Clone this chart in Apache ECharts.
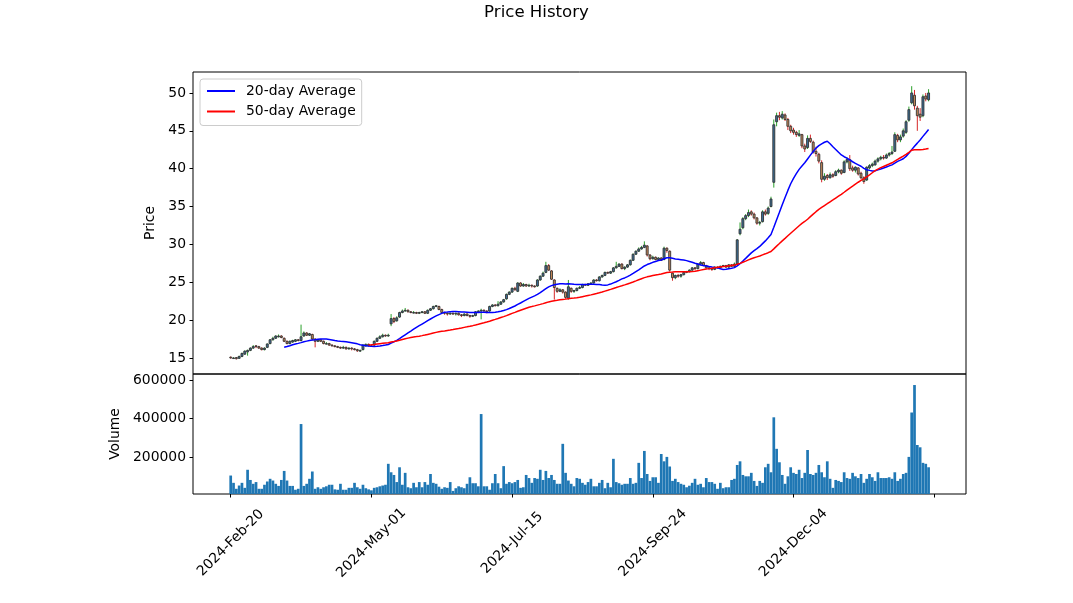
<!DOCTYPE html>
<html><head><meta charset="utf-8">
<script src="https://cdn.jsdelivr.net/npm/echarts@6/dist/echarts.min.js"></script>
<style>html,body{margin:0;padding:0;background:#fff}#c{width:1073px;height:603px}</style>
</head><body><div id="c"></div>
<script>
const tickIndex = [0, 50, 100, 150, 200, 250];
const tickLabels = ['2024-Feb-20', '2024-May-01', '2024-Jul-15', '2024-Sep-24', '2024-Dec-04', ''];
const priceTicks = [15, 20, 25, 30, 35, 40, 45, 50];
const volumeTicks = [200000, 400000, 600000];

const open = [
15.1,15.0,15.05,14.95,15.2,15.5,15.8,16.0,16.3,16.6,
16.5,16.3,16.1,16.4,16.9,17.4,17.6,17.8,17.9,17.6,
17.2,16.9,17.1,17.2,17.4,17.3,17.9,18.3,18.0,18.1,
17.5,17.2,17.4,17.2,16.9,16.9,16.7,16.6,16.5,16.4,
16.3,16.4,16.2,16.3,16.2,16.1,15.9,16.1,16.6,16.8,
16.6,16.7,17.2,17.6,17.8,18.0,17.9,19.5,20.2,19.9,
20.4,21.0,21.2,21.3,21.1,21.0,21.0,20.9,21.0,21.1,
20.9,21.3,21.5,21.8,21.8,21.4,21.0,20.9,20.8,20.9,
20.8,20.9,20.7,20.6,20.8,20.6,20.5,20.6,21.1,21.2,
21.3,21.2,21.2,21.8,22.0,21.9,22.1,22.4,22.8,23.4,
23.7,24.2,23.8,24.9,24.5,24.7,24.5,24.6,24.5,24.5,
25.3,25.8,26.3,27.2,26.5,25.3,24.2,23.8,24.0,23.7,
22.9,24.2,23.8,23.9,24.2,24.3,24.7,24.6,24.8,24.9,
25.3,25.2,25.7,25.9,26.3,26.2,26.4,26.9,27.1,27.4,
26.8,27.0,27.3,27.9,28.7,29.1,29.4,29.6,29.8,28.6,
28.1,28.3,28.0,28.2,28.0,29.5,29.1,26.2,25.6,25.9,
25.8,26.0,26.3,26.4,26.6,26.9,26.8,27.4,27.6,27.2,
26.9,26.8,26.7,27.0,26.9,27.1,27.2,27.0,27.3,27.1,
27.4,31.4,32.2,33.4,33.8,34.3,34.0,33.5,32.8,33.0,
34.3,34.1,35.0,38.2,46.2,47.0,46.7,47.1,46.5,45.6,
45.1,44.8,44.4,44.5,43.0,42.8,44.0,43.5,42.3,41.9,
40.8,38.6,39.1,38.8,39.2,39.1,39.6,39.8,39.5,40.9,
41.2,40.1,39.8,40.1,39.4,38.8,38.5,40.1,40.4,40.5,
41.0,41.3,41.5,41.4,41.8,42.0,42.3,44.4,43.8,44.3,
44.8,46.4,48.7,49.7,48.0,47.2,47.0,49.6,49.1];

const high = [
15.2,15.1,15.1,15.3,15.7,16.0,16.1,16.4,16.7,16.7,
16.6,16.4,16.4,16.9,17.5,17.8,18.0,18.1,18.0,17.7,
17.3,17.3,17.4,17.5,17.5,19.4,18.5,18.4,18.3,18.2,
17.6,17.5,17.5,17.3,17.1,17.0,16.8,16.7,16.6,16.5,
16.6,16.5,16.4,16.4,16.3,16.2,16.1,16.8,16.9,16.9,
16.8,17.3,17.7,18.0,18.2,18.1,18.2,20.8,20.4,20.5,
21.1,21.4,21.6,21.4,21.2,21.2,21.1,21.1,21.2,21.2,
21.4,21.6,21.9,22.0,21.9,21.5,21.1,21.0,21.0,21.0,
21.0,21.0,20.8,20.9,20.9,20.7,20.7,21.2,21.3,21.5,
21.4,21.3,21.9,22.1,22.1,22.5,22.5,22.8,23.5,23.8,
24.3,24.4,25.0,25.0,24.9,24.8,24.8,24.7,24.6,25.4,
25.9,26.4,27.7,27.4,26.6,25.4,24.3,24.2,24.1,23.8,
25.3,24.3,24.0,24.3,24.5,24.8,24.8,24.9,25.0,25.4,
25.4,25.8,26.0,26.4,26.4,26.5,27.0,27.7,27.5,27.5,
27.1,27.4,28.0,28.8,29.2,29.6,29.8,30.4,29.9,28.7,
28.5,28.4,28.3,28.3,29.7,29.6,29.2,26.3,26.0,26.1,
26.1,26.4,26.5,26.7,27.0,27.0,27.5,27.8,27.7,27.3,
27.0,26.9,27.1,27.1,27.2,27.3,27.3,27.4,27.4,27.6,
30.7,32.9,33.6,34.0,34.6,34.5,34.2,33.6,33.1,34.5,
34.6,35.0,36.3,46.5,47.4,47.5,47.6,47.3,46.7,45.8,
45.4,45.0,45.1,44.6,43.3,44.4,44.5,43.7,42.9,42.1,
41.1,39.4,39.3,39.5,39.4,39.8,40.0,39.9,41.1,41.5,
41.8,40.4,40.3,40.2,39.6,39.0,40.3,40.6,40.8,41.2,
41.5,41.7,41.8,42.0,42.2,43.0,44.8,44.6,44.5,45.3,
46.4,48.2,50.9,50.4,48.3,48.0,49.8,50.0,50.5];

const low = [
14.9,14.9,14.8,14.9,15.1,15.4,15.3,15.9,16.2,16.3,
16.2,16.0,16.0,16.3,16.8,17.3,17.5,17.7,17.6,17.1,
16.8,16.8,17.0,17.1,17.2,17.2,17.8,17.9,17.9,17.3,
16.4,17.1,17.1,16.8,16.8,16.6,16.5,16.4,16.3,16.2,
16.2,16.1,16.1,16.0,16.0,15.8,15.8,16.0,16.5,16.5,
16.5,16.6,17.1,17.5,17.7,17.8,17.8,19.2,19.6,19.8,
20.3,20.9,21.1,21.0,20.9,20.9,20.8,20.8,20.9,20.8,
20.8,21.2,21.4,21.7,21.3,20.9,20.7,20.6,20.7,20.7,
20.6,20.6,20.4,20.5,20.5,20.3,20.4,20.5,21.0,20.1,
21.1,20.9,21.1,21.7,21.8,21.8,22.0,22.3,22.7,23.3,
23.6,23.9,23.7,24.4,24.4,24.4,24.4,24.3,24.3,24.4,
25.2,25.7,26.2,26.5,25.3,22.7,23.6,23.7,23.5,22.8,
22.7,23.6,23.6,23.8,24.1,24.2,24.5,24.5,24.7,24.8,
25.1,25.1,25.6,25.8,26.1,26.1,26.3,26.8,27.0,26.7,
26.6,26.9,27.2,27.8,28.6,29.0,29.3,29.5,28.4,27.9,
28.0,27.9,27.9,27.8,27.9,28.9,26.4,25.2,25.4,25.6,
25.6,25.9,26.2,26.3,26.5,26.6,26.7,27.3,27.1,26.8,
26.6,26.5,26.6,26.8,26.8,27.0,26.9,26.9,27.0,27.0,
27.3,31.2,32.0,33.2,33.6,33.8,33.3,32.6,32.5,32.9,
33.8,33.9,34.9,37.5,45.6,46.4,46.5,46.3,45.1,44.7,
44.5,44.2,44.2,42.7,42.2,42.6,43.4,42.0,41.6,40.7,
38.2,38.4,38.5,38.7,38.8,39.0,39.4,39.2,39.4,40.7,
39.7,39.6,39.5,39.1,38.6,38.0,38.4,39.9,40.2,40.4,
40.8,41.1,41.2,41.3,41.6,41.8,42.2,43.5,43.5,44.1,
44.6,46.2,48.5,47.8,45.0,46.3,46.8,48.9,48.9];

const close = [
15.0,15.0,14.9,15.2,15.6,15.9,16.0,16.3,16.5,16.5,
16.3,16.1,16.3,16.85,17.4,17.6,17.9,17.9,17.7,17.2,
16.9,17.2,17.3,17.4,17.3,17.8,18.3,18.0,18.2,17.5,
17.2,17.4,17.2,16.9,16.9,16.7,16.6,16.5,16.4,16.3,
16.4,16.2,16.3,16.2,16.1,15.95,16.0,16.7,16.8,16.6,
16.6,17.2,17.6,17.8,18.0,17.9,18.0,20.2,19.8,20.3,
21.0,21.2,21.3,21.1,21.0,21.0,20.9,21.0,21.1,20.9,
21.3,21.5,21.8,21.9,21.4,21.0,20.9,20.8,20.9,20.8,
20.9,20.7,20.6,20.8,20.6,20.5,20.6,21.1,21.2,21.3,
21.2,21.1,21.8,22.0,21.9,22.1,22.4,22.7,23.4,23.7,
24.2,24.0,24.9,24.5,24.7,24.5,24.6,24.5,24.4,25.3,
25.8,26.2,27.2,26.6,25.4,24.3,23.8,24.0,23.7,23.0,
24.4,23.8,23.9,24.2,24.3,24.7,24.6,24.8,24.9,25.3,
25.2,25.7,25.9,26.3,26.2,26.4,26.9,27.1,27.4,26.8,
27.0,27.3,27.9,28.7,29.1,29.4,29.6,29.9,28.6,28.1,
28.3,28.0,28.2,27.9,29.5,29.2,26.6,25.6,25.9,25.8,
26.0,26.3,26.4,26.6,26.9,26.8,27.4,27.6,27.2,26.9,
26.8,26.7,27.0,26.9,27.1,27.2,27.0,27.3,27.1,27.4,
30.6,32.0,33.4,33.8,34.2,34.0,33.5,32.8,32.9,34.3,
34.0,34.8,36.0,45.8,47.0,46.8,47.2,46.5,45.6,45.0,
44.8,44.5,44.6,43.0,42.6,44.0,43.6,42.2,42.0,41.0,
38.6,39.0,38.8,39.2,39.0,39.6,39.8,39.4,40.9,41.2,
40.0,39.8,40.2,39.3,38.8,38.3,40.2,40.4,40.6,41.0,
41.3,41.5,41.4,41.8,42.0,42.2,44.5,43.8,44.2,45.0,
46.2,47.8,50.0,48.3,47.0,46.8,49.5,49.2,50.0];

const volume = [
103000,65000,34000,51000,65000,39000,133000,80000,60000,69000,
34000,34000,55000,72000,86000,77000,60000,49000,80000,127000,
77000,49000,49000,29000,34000,371000,49000,60000,86000,124000,
34000,42000,34000,42000,47000,55000,55000,31000,29000,60000,
29000,29000,39000,39000,65000,42000,34000,55000,37000,31000,
26000,39000,42000,47000,51000,55000,164000,120000,106000,69000,
146000,55000,117000,42000,37000,65000,42000,69000,42000,69000,
55000,111000,65000,60000,45000,34000,42000,39000,69000,23000,
37000,47000,42000,37000,60000,94000,63000,63000,47000,423000,
47000,47000,29000,63000,111000,63000,37000,152000,60000,69000,
63000,69000,80000,39000,42000,106000,90000,65000,90000,86000,
133000,80000,127000,90000,106000,80000,60000,60000,268000,117000,
77000,60000,47000,90000,86000,65000,55000,69000,86000,47000,
47000,65000,80000,37000,65000,42000,190000,69000,63000,55000,
60000,60000,90000,60000,65000,169000,90000,231000,111000,75000,
94000,94000,65000,215000,177000,200000,150000,75000,86000,69000,
60000,55000,42000,50000,65000,86000,55000,60000,42000,90000,
69000,69000,60000,34000,65000,37000,42000,42000,80000,86000,
158000,177000,106000,99000,99000,117000,75000,49000,75000,65000,
146000,164000,120000,406000,242000,172000,106000,60000,99000,146000,
117000,111000,133000,90000,117000,236000,111000,106000,117000,158000,
120000,94000,177000,86000,39000,80000,75000,69000,120000,90000,
86000,117000,99000,90000,111000,65000,86000,111000,94000,75000,
120000,90000,90000,90000,94000,86000,120000,75000,86000,111000,
117000,200000,431000,574000,262000,250000,169000,164000,146000];

// ---- derived ----
function sma(arr, n) {
  const out = [];
  for (let i = n - 1; i < arr.length; i++) {
    let s = 0;
    for (let k = i - n + 1; k <= i; k++) s += arr[k];
    out.push([i, s / n]);
  }
  return out;
}
const candleData = close.map((c, i) => [i, open[i], c, low[i], high[i]]);
const volData = volume.map((v, i) => [i, v]);
const vMin = 0.3 * Math.min(...volume);
const vMax = 1.1 * Math.max(...volume);
const XMIN = -13.4, XMAX = 261.3;
const FONT = 'DejaVu Sans';

function renderCandle(params, api) {
  const i = api.value(0), o = api.value(1), c = api.value(2), l = api.value(3), h = api.value(4);
  const pO = api.coord([i, o]), pC = api.coord([i, c]);
  const pL = api.coord([i, l]), pH = api.coord([i, h]);
  const w = api.size([1, 0])[0] * 0.7;
  const up = c >= o;
  const top = Math.min(pO[1], pC[1]), bot = Math.max(pO[1], pC[1]);
  return {
    type: 'group',
    children: [
      { type: 'line', shape: { x1: pH[0], y1: pH[1], x2: pL[0], y2: pL[1] },
        style: { stroke: up ? '#2ca02c' : '#d62728', lineWidth: 1 } },
      { type: 'rect', shape: { x: pO[0] - w / 2, y: top, width: w, height: Math.max(bot - top, 0.6) },
        style: { fill: up ? '#3b6e98' : '#c98a5a', stroke: '#333333', lineWidth: 0.9 } }
    ]
  };
}

const axisTxt = { fontFamily: FONT, fontSize: 13.9, color: '#000' };
const chart = echarts.init(document.getElementById('c'), null, { renderer: 'canvas', width: 1073, height: 603 });
chart.setOption({
  animation: false,
  backgroundColor: '#fff',
  textStyle: { fontFamily: FONT },
  title: { text: 'Price History', left: 'center', top: -1,
    textStyle: { fontFamily: FONT, fontSize: 16.6, fontWeight: 'normal', color: '#000' } },
  legend: {
    data: ['20-day Average', '50-day Average'],
    orient: 'vertical', left: 200, top: 79,
    padding: [5, 6, 7, 6], itemWidth: 28, itemHeight: 14, itemGap: 6.5,
    itemStyle: { opacity: 0, borderWidth: 0 },
    backgroundColor: 'rgba(255,255,255,0.8)', borderColor: '#cccccc', borderWidth: 1, borderRadius: 3,
    textStyle: { fontFamily: FONT, fontSize: 13.9, color: '#000', padding: [0, 0, 0, 6] }
  },
  grid: [
    { left: 193, top: 72, width: 773, height: 302, show: true, borderColor: '#000', borderWidth: 1, backgroundColor: 'transparent' },
    { left: 193, top: 374, width: 773, height: 120, show: true, borderColor: '#000', borderWidth: 1, backgroundColor: 'transparent' }
  ],
  xAxis: [
    { type: 'value', gridIndex: 0, min: XMIN, max: XMAX,
      axisLine: { show: false, onZero: false }, axisTick: { show: false }, axisLabel: { show: false }, splitLine: { show: false } },
    { type: 'value', gridIndex: 1, min: XMIN, max: XMAX, position: 'bottom',
      axisLine: { show: false, onZero: false }, splitLine: { show: false },
      axisTick: { show: true, length: 3.5, customValues: tickIndex, lineStyle: { color: '#000', width: 1 } },
      axisLabel: Object.assign({ customValues: tickIndex, rotate: 45, align: 'center', verticalAlign: 'middle', margin: 49,
        formatter: v => { const k = tickIndex.indexOf(Math.round(v)); return k >= 0 ? tickLabels[k] : ''; } }, axisTxt) }
  ],
  yAxis: [
    { type: 'value', gridIndex: 0, min: 12.88, max: 52.77, position: 'left', name: 'Price', nameLocation: 'middle', nameGap: 26,
      nameTextStyle: axisTxt, axisLine: { show: false, onZero: false }, splitLine: { show: false },
      axisTick: { show: true, length: 3.5, customValues: priceTicks, lineStyle: { color: '#000', width: 1 } },
      axisLabel: Object.assign({ customValues: priceTicks, margin: 7, formatter: v => String(v) }, axisTxt) },
    { type: 'value', gridIndex: 1, min: vMin, max: vMax, position: 'left', name: 'Volume', nameLocation: 'middle', nameGap: 62,
      nameTextStyle: axisTxt, axisLine: { show: false, onZero: false }, splitLine: { show: false },
      axisTick: { show: true, length: 3.5, customValues: volumeTicks, lineStyle: { color: '#000', width: 1 } },
      axisLabel: Object.assign({ customValues: volumeTicks, margin: 7, formatter: v => String(Math.round(v)) }, axisTxt) }
  ],
  series: [
    { type: 'custom', name: 'OHLC', xAxisIndex: 0, yAxisIndex: 0, renderItem: renderCandle,
      encode: { x: 0, y: [1, 2, 3, 4] }, data: candleData, clip: true, z: 2 },
    { type: 'line', name: '20-day Average', xAxisIndex: 0, yAxisIndex: 0, data: sma(close, 20),
      symbol: 'none', showSymbol: false, lineStyle: { color: '#0000ff', width: 1.5 }, itemStyle: { color: '#0000ff' }, z: 3 },
    { type: 'line', name: '50-day Average', xAxisIndex: 0, yAxisIndex: 0, data: sma(close, 50),
      symbol: 'none', showSymbol: false, lineStyle: { color: '#ff0000', width: 1.5 }, itemStyle: { color: '#ff0000' }, z: 3 },
    { type: 'bar', name: 'Volume', xAxisIndex: 1, yAxisIndex: 1, data: volData, barWidth: 2.7,
      itemStyle: { color: '#1f77b4' }, clip: true }
  ]
});
</script>
</body></html>
